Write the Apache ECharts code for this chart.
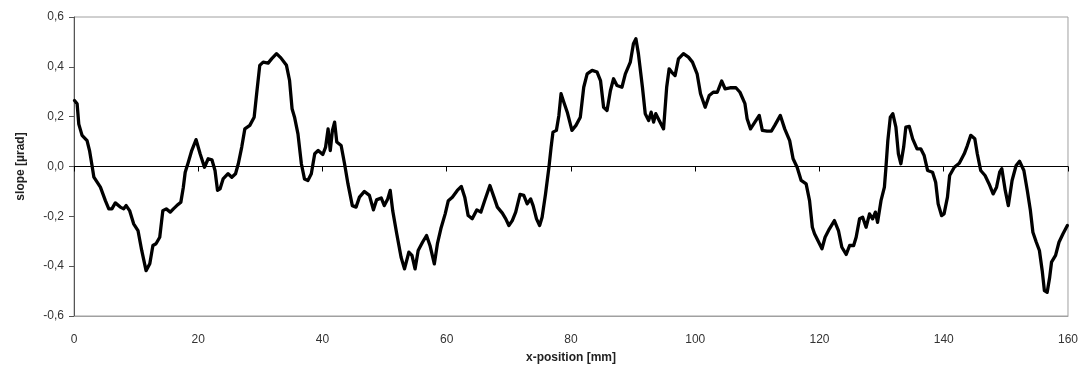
<!DOCTYPE html>
<html>
<head>
<meta charset="utf-8">
<script src="https://cdn.jsdelivr.net/npm/echarts@6/dist/echarts.min.js"></script>
<style>
html,body{margin:0;padding:0;background:#fff;}
#chart{width:1081px;height:373px;}
</style>
</head>
<body>
<div id="chart"></div>
<script>
const xPosition = [0.08,0.5,0.77,1.3,2.1,2.5,2.9,3.2,4.25,5.05,5.6,6.1,6.65,7.45,8.0,8.4,8.95,9.6,10.3,10.9,11.6,12.2,12.7,13.2,13.8,14.3,14.85,15.5,16.0,16.55,17.2,17.6,17.9,18.4,18.95,19.65,
20.3,21.0,21.6,22.2,22.7,23.1,23.5,24.0,24.8,25.4,26.0,26.45,27.0,27.5,28.3,29.0,29.4,29.9,30.45,31.25,31.8,32.6,33.3,34.2,34.7,35.1,35.5,36.05,36.6,37.1,37.65,38.2,38.75,39.3,
40.05,40.5,40.9,41.25,41.6,41.95,42.3,43.0,43.55,44.1,44.8,45.4,45.95,46.75,47.55,48.2,48.7,49.45,49.95,50.5,50.9,51.3,51.95,52.65,53.2,53.9,54.4,54.9,55.4,56.1,56.75,57.3,58.0,58.5,59.05,59.75,
60.25,60.9,61.7,62.35,62.9,63.45,64.1,64.85,65.5,66.1,66.95,67.6,68.15,68.95,69.5,70.0,70.55,71.1,71.8,72.4,72.95,73.5,73.9,74.45,74.95,75.35,75.9,76.45,76.8,77.1,77.65,78.05,78.4,78.85,79.4,
80.15,80.8,81.5,82.05,82.6,83.4,84.2,84.75,85.25,85.8,86.35,86.85,87.4,88.2,88.75,89.55,90.05,90.45,90.85,91.5,91.95,92.5,92.9,93.3,93.65,94.2,94.9,95.4,95.8,96.2,96.75,97.3,98.1,98.9,99.55,
100.3,100.85,101.6,102.25,102.9,103.55,104.25,104.8,105.6,106.55,107.2,108.0,108.35,108.9,109.6,110.3,110.8,111.55,112.25,112.8,113.7,114.4,115.2,115.75,116.4,117.05,117.85,118.4,118.85,119.2,
120.4,120.9,121.6,122.4,123.05,123.6,124.3,124.85,125.5,125.9,126.45,126.95,127.5,128.05,128.55,129.0,129.35,129.9,130.45,130.7,131.0,131.4,131.8,132.3,132.7,133.1,133.55,133.9,134.45,135.0,135.7,136.3,136.85,137.4,138.2,138.7,139.1,139.65,
140.05,140.6,140.95,141.7,142.5,143.3,143.8,144.35,145.0,145.4,145.95,146.65,147.3,147.95,148.5,149.0,149.35,149.9,150.4,151.0,151.65,152.2,152.9,153.45,153.95,154.35,154.9,155.4,155.85,156.2,156.65,157.05,157.35,158.0,158.55,159.2,159.9];
const slopeValues = [0.265,0.252,0.17,0.125,0.104,0.064,0.004,-0.043,-0.083,-0.137,-0.17,-0.17,-0.146,-0.163,-0.17,-0.157,-0.177,-0.23,-0.257,-0.337,-0.418,-0.39,-0.317,-0.31,-0.284,-0.177,-0.17,-0.183,-0.17,-0.157,-0.143,-0.083,-0.023,0.017,0.064,0.108,
0.051,-0.003,0.031,0.027,-0.016,-0.096,-0.09,-0.05,-0.029,-0.043,-0.029,0.011,0.078,0.151,0.165,0.198,0.292,0.406,0.419,0.415,0.432,0.453,0.436,0.406,0.345,0.232,0.198,0.131,0.011,-0.05,-0.056,-0.029,0.051,0.064,
0.048,0.078,0.151,0.064,0.145,0.178,0.098,0.084,0.011,-0.07,-0.157,-0.163,-0.123,-0.1,-0.116,-0.174,-0.134,-0.126,-0.157,-0.13,-0.096,-0.177,-0.27,-0.364,-0.411,-0.344,-0.357,-0.411,-0.337,-0.304,-0.277,-0.317,-0.391,-0.31,-0.25,-0.19,
-0.137,-0.123,-0.096,-0.08,-0.123,-0.197,-0.21,-0.174,-0.183,-0.137,-0.076,-0.123,-0.163,-0.187,-0.21,-0.237,-0.217,-0.183,-0.112,-0.116,-0.15,-0.13,-0.157,-0.21,-0.237,-0.204,-0.11,-0.003,0.078,0.138,0.145,0.205,0.292,0.258,0.218,
0.145,0.165,0.198,0.318,0.372,0.386,0.379,0.345,0.238,0.225,0.305,0.352,0.325,0.318,0.372,0.419,0.493,0.513,0.453,0.318,0.212,0.185,0.218,0.178,0.212,0.185,0.151,0.318,0.392,0.379,0.365,0.432,0.453,0.439,0.419,
0.372,0.292,0.238,0.285,0.298,0.298,0.343,0.312,0.316,0.316,0.298,0.252,0.192,0.151,0.178,0.205,0.145,0.142,0.142,0.165,0.205,0.151,0.104,0.031,-0.003,-0.056,-0.07,-0.137,-0.244,-0.27,
-0.33,-0.284,-0.25,-0.217,-0.257,-0.324,-0.353,-0.317,-0.317,-0.284,-0.21,-0.204,-0.244,-0.19,-0.21,-0.183,-0.224,-0.137,-0.083,-0.003,0.104,0.198,0.212,0.158,0.051,0.011,0.078,0.158,0.161,0.111,0.071,0.071,0.044,-0.016,-0.023,-0.063,-0.15,-0.197,
-0.19,-0.123,-0.036,-0.003,0.013,0.051,0.084,0.125,0.111,0.051,-0.016,-0.036,-0.07,-0.11,-0.083,-0.023,-0.009,-0.096,-0.157,-0.056,0.004,0.021,-0.016,-0.096,-0.177,-0.264,-0.304,-0.337,-0.418,-0.498,-0.505,-0.445,-0.384,-0.357,-0.304,-0.27,-0.237];
const xTicks = {min: 0, max: 160, interval: 20};
const yTicks = {min: -0.6, max: 0.6, interval: 0.2};

const seriesData = xPosition.map((x, i) => [x, slopeValues[i]]);
const fmt = v => (Math.round(v * 10) / 10).toFixed(1).replace('.', ',').replace('-0,0', '0,0');
const font = 'Liberation Sans, Arial, sans-serif';

const chart = echarts.init(document.getElementById('chart'), null, {renderer: 'canvas'});
chart.setOption({
  animation: false,
  backgroundColor: '#fff',
  grid: {left: 74, right: 10, top: 17, bottom: 57, show: true, borderColor: '#a0a0a0', borderWidth: 1},
  xAxis: [{
    type: 'value', min: xTicks.min, max: xTicks.max, interval: xTicks.interval, position: 'bottom',
    name: 'x-position [mm]', nameLocation: 'middle', nameGap: 36,
    nameTextStyle: {fontFamily: font, fontSize: 12, fontWeight: 'bold', color: '#222'},
    axisLine: {show: true, onZero: false, lineStyle: {color: '#a0a0a0', width: 1}},
    axisTick: {show: false},
    axisLabel: {margin: 18, fontFamily: font, fontSize: 12, color: '#333'},
    splitLine: {show: false}
  }, {
    type: 'value', min: xTicks.min, max: xTicks.max, interval: xTicks.interval, position: 'bottom',
    axisLine: {show: true, onZero: true, lineStyle: {color: '#000', width: 1}},
    axisTick: {show: true, inside: false, length: 5, lineStyle: {color: '#000'}},
    axisLabel: {show: false},
    splitLine: {show: false}
  }],
  yAxis: {
    type: 'value', min: yTicks.min, max: yTicks.max, interval: yTicks.interval,
    name: 'slope [µrad]', nameLocation: 'middle', nameGap: 47, nameRotate: 90,
    nameTextStyle: {fontFamily: font, fontSize: 12, fontWeight: 'bold', color: '#222'},
    axisLine: {show: true, onZero: false, lineStyle: {color: '#555', width: 1}},
    axisTick: {show: true, length: 5, lineStyle: {color: '#555'}},
    axisLabel: {margin: 10, fontFamily: font, fontSize: 12, color: '#333', formatter: fmt},
    splitLine: {show: false}
  },
  series: [{
    type: 'line', data: seriesData, xAxisIndex: 0, showSymbol: false, symbol: 'none',
    lineStyle: {color: '#000', width: 3.3, join: 'round', cap: 'round'}, smooth: false
  }]
});
</script>
</body>
</html>
